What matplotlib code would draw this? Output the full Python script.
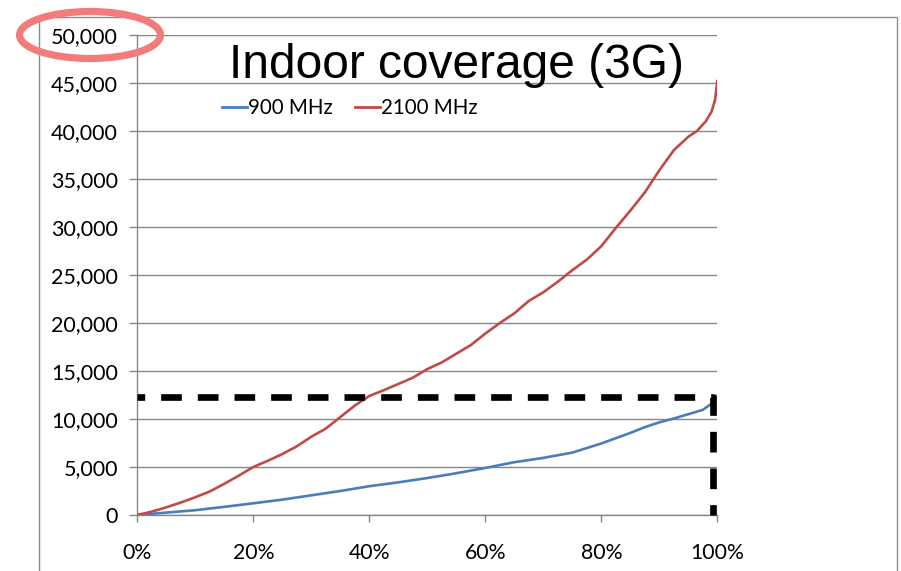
import matplotlib
matplotlib.use("Agg")
import matplotlib.pyplot as plt
from matplotlib.patches import Ellipse, Rectangle
from matplotlib.ticker import FuncFormatter, MultipleLocator

# ---- data ----
red_x = [0, 2.5, 5, 7.5, 10, 12.5, 15, 17.5, 20, 22.5, 25, 27.5, 30, 32.5, 35, 37.5,
         40, 42.5, 45, 47.5, 50, 52.5, 55, 57.5, 60, 62.5, 65, 67.5, 70, 72.5, 75,
         77.5, 80, 82.5, 85, 87.5, 90, 92.5, 95, 96.5, 98, 99, 99.6, 100]
red_y = [0, 350, 800, 1300, 1850, 2450, 3250, 4100, 5000, 5650, 6350, 7150, 8150,
         9000, 10200, 11400, 12400, 13000, 13650, 14300, 15200, 15900, 16800, 17700,
         18900, 20000, 21000, 22300, 23200, 24300, 25500, 26600, 28000, 29900, 31700,
         33600, 35900, 38000, 39400, 40000, 41000, 42000, 43200, 45200]

blue_x = [0, 5, 10, 15, 20, 25, 30, 35, 40, 45, 50, 55, 60, 65, 70, 75, 80, 85, 87.5, 90,
          92.5, 95, 97.5, 99, 100]
blue_y = [0, 250, 500, 850, 1220, 1600, 2050, 2500, 3000, 3400, 3850, 4350, 4900,
          5500, 5950, 6500, 7450, 8550, 9150, 9650, 10050, 10500, 10950, 11600, 12450]

series_labels = ["900 MHz", "2100 MHz"]
title_text = "Indoor coverage (3G)"
ref_level = 12320
ref_x = 99.3

fig = plt.figure(figsize=(9.01, 5.71), dpi=100)
W, H = 901, 571

ax = fig.add_axes([137.3 / W, 1 - 515 / H, (717.3 - 137.3) / W, (515 - 35) / H])

grid_c = "#868686"
ax.plot([x / 100 for x in blue_x], blue_y, color="#4A7EBB", lw=1.9, label=series_labels[0], zorder=3)
ax.plot([x / 100 for x in red_x], red_y, color="#BE4B48", lw=1.9, label=series_labels[1], zorder=3)

# dashed reference lines
ax.plot([0, ref_x / 100, ref_x / 100], [ref_level, ref_level, 0], color="black", lw=4.8,
        linestyle=(1.95, (3.1, 2.4)), solid_capstyle="butt", dash_capstyle="butt", zorder=4,
        clip_on=False)

ax.set_xlim(0, 1)
ax.set_ylim(0, 50000)
ax.yaxis.set_major_locator(MultipleLocator(5000))
ax.xaxis.set_major_locator(MultipleLocator(0.2))
ax.yaxis.set_major_formatter(FuncFormatter(lambda v, p: f"{int(v):,}"))
ax.xaxis.set_major_formatter(FuncFormatter(lambda v, p: f"{int(round(v * 100))}%"))

ax.grid(axis="y", color=grid_c, lw=1.0)
ax.set_axisbelow(True)
for s in ["top", "right"]:
    ax.spines[s].set_visible(False)
for s in ["left", "bottom"]:
    ax.spines[s].set_color(grid_c)
    ax.spines[s].set_linewidth(1.0)

ax.tick_params(axis="y", length=6, width=1, color=grid_c, pad=8, labelsize=15.5)
ax.tick_params(axis="x", length=5, width=1, color=grid_c, pad=15, labelsize=15.3)
for lab in ax.get_xticklabels() + ax.get_yticklabels():
    lab.set_fontfamily(["Lato", "DejaVu Sans"])

# title
fig.text(456.5 / W, 1 - 78 / H, title_text, ha="center", va="baseline",
         fontsize=34.5, family=["Liberation Sans", "DejaVu Sans"])

# legend
leg = fig.legend(loc="center", bbox_to_anchor=(350 / W, 1 - 108 / H), ncol=2, frameon=False,
                 handlelength=1.2, handletextpad=0.05, columnspacing=1.1,
                 prop=dict(family=["Lato", "DejaVu Sans"], size=14.8))
for h in leg.get_lines():
    h.set_linewidth(2.0)

# outer chart border
fig.patches.append(Rectangle((38.5 / W, -0.05), (896.7 - 38.5) / W, 1 - 17 / H + 0.05,
                             transform=fig.transFigure, fill=False, edgecolor="#8c8c8c",
                             lw=1.0, zorder=0))

# highlight ellipse
fig.patches.append(Ellipse((90 / W, 1 - 35 / H), 141 / W, 47 / H, transform=fig.transFigure,
                           fill=False, edgecolor="#F27C7C", lw=5.2, zorder=10))

fig.savefig("out.png", dpi=100)
